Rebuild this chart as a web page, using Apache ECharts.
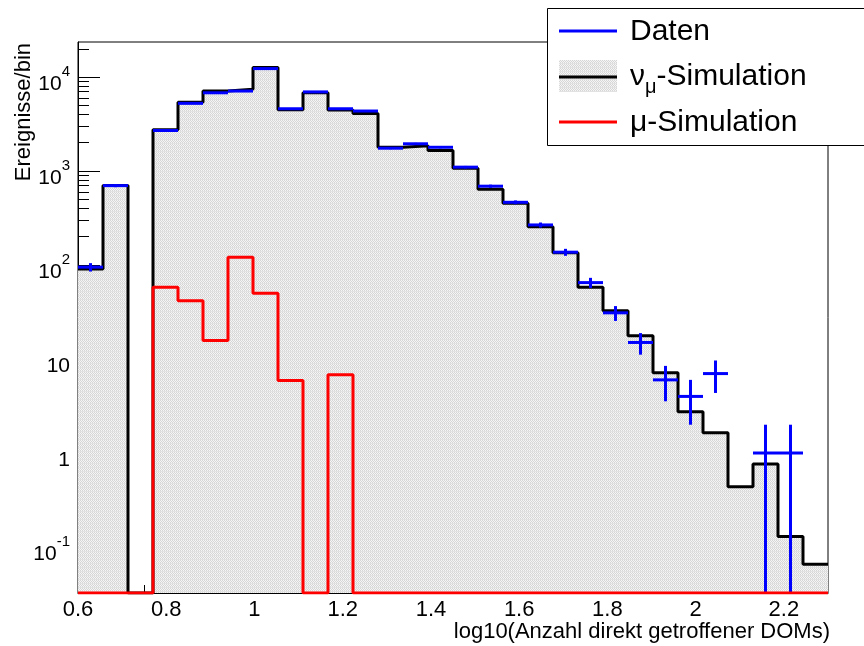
<!DOCTYPE html>
<html>
<head>
<meta charset="utf-8">
<script src="https://cdn.jsdelivr.net/npm/echarts@6/dist/echarts.min.js"></script>
<style>
  html, body { margin: 0; padding: 0; background: #ffffff; }
  #chart { width: 864px; height: 646px; }
</style>
</head>
<body>
<div id="chart"></div>
<script>
// Binning in log10(number of directly hit DOMs)
const binLow = 0.6;
const binHigh = 2.3;
const binCount = 30;

// Events per bin: measured data
const daten = [95, 700, 0, 2700, 5250, 6800, 7100, 12300, 4600, 6950,
               4600, 4350, 1750, 1950, 1790, 1100, 690, 465, 267, 137,
               65, 31, 15, 6, 4, 7, 0, 1, 1, 0];

// Events per bin: nu_mu simulation (weighted)
const nuMuSimulation = [91, 700, 0, 2750, 5400, 7100, 7400, 12600, 4500, 6800,
                        4450, 4100, 1790, 1860, 1650, 1070, 640, 455, 255, 135,
                        58, 32.6, 17.7, 7.15, 2.75, 1.64, 0.438, 0.764, 0.129, 0.0655];

// Events per bin: atmospheric muon simulation
const muSimulation = [0, 0, 0, 58, 41.7, 15.7, 121, 50, 5.9, 0,
                      6.8, 0, 0, 0, 0, 0, 0, 0, 0, 0,
                      0, 0, 0, 0, 0, 0, 0, 0, 0, 0];

// Axis ranges and tick labels
const yMin = 0.0324;
const yMax = 23600;
const xTickValues = [0.6, 0.8, 1, 1.2, 1.4, 1.6, 1.8, 2, 2.2];
const xTickLabels = ['0.6', '0.8', '1', '1.2', '1.4', '1.6', '1.8', '2', '2.2'];
const yTickValues = [0.1, 1, 10, 100, 1000, 10000];
const yTickLabels = ['{b|10}{s|-1}', '{b|1}', '{b|10}', '{b|10}{s|2}', '{b|10}{s|3}', '{b|10}{s|4}'];

const binWidth = (binHigh - binLow) / binCount;
const edge = i => binLow + i * binWidth;

// minor ticks: every 0.05 on x, 2..9 per decade on y
const xMinorTicks = [];
for (let k = 13; k <= 45; k++) {
  const v = +(k * 0.05).toFixed(2);
  if (k % 4 !== 0 && v < binHigh) xMinorTicks.push(v);
}
const yMinorTicks = [];
for (let e = -2; e <= 4; e++) {
  for (let m = 2; m <= 9; m++) {
    const v = m * Math.pow(10, e);
    if (v > yMin && v < yMax) yMinorTicks.push(v);
  }
}

// empty bins sit on the lower frame edge of the log scale
function stepPoints(values) {
  const pts = values.map((v, i) => [edge(i), v > 0 ? v : yMin]);
  pts.push([edge(binCount), values[binCount - 1] > 0 ? values[binCount - 1] : yMin]);
  return pts;
}

// light dotted fill of the simulation histogram
function makeDotPattern() {
  const c = document.createElement('canvas');
  c.width = 4; c.height = 4;
  const g = c.getContext('2d');
  g.fillStyle = '#f5f5f5';
  g.fillRect(0, 0, 4, 4);
  g.fillStyle = '#d6d6d6';
  g.fillRect(0, 0, 1, 1); g.fillRect(2, 0, 1, 1);
  g.fillRect(1, 1, 1, 1); g.fillRect(3, 1, 1, 1);
  g.fillRect(0, 2, 1, 1); g.fillRect(2, 2, 1, 1);
  g.fillRect(1, 3, 1, 1); g.fillRect(3, 3, 1, 1);
  g.fillStyle = '#e2e2e2';
  g.fillRect(0, 3, 4, 1);
  return c;
}
const dotPattern = { image: makeDotPattern(), repeat: 'repeat' };

const datenPoints = [];
daten.forEach((n, i) => {
  if (n > 0) {
    const s = Math.sqrt(n);
    datenPoints.push([edge(i), edge(i + 1), n, Math.max(n - s, yMin), n + s]);
  }
});

const chart = echarts.init(document.getElementById('chart'), null, { renderer: 'canvas' });

const font = 'Liberation Sans, Arial, Helvetica, sans-serif';

chart.setOption({
  animation: false,
  backgroundColor: '#ffffff',
  grid: {
    left: 78, right: 36, top: 42, bottom: 53,
    show: true, borderColor: '#000000', borderWidth: 1, backgroundColor: 'transparent'
  },
  xAxis: [{
    type: 'value', min: binLow, max: binHigh,
    axisLine: { show: true, onZero: false, lineStyle: { color: '#000000', width: 1 } },
    axisTick: { show: true, inside: true, length: 15, customValues: xTickValues, lineStyle: { color: '#000000', width: 1 } },
    axisLabel: {
      show: true, customValues: xTickValues, margin: 6,
      color: '#000000', fontSize: 22, fontFamily: font,
      formatter: v => xTickLabels[xTickValues.findIndex(t => Math.abs(t - v) < 1e-6)] || ''
    },
    splitLine: { show: false }
  }, {
    type: 'value', min: binLow, max: binHigh, position: 'bottom',
    axisLine: { show: false },
    axisTick: { show: true, inside: true, length: 8, customValues: xMinorTicks, lineStyle: { color: '#000000', width: 1 } },
    axisLabel: { show: false },
    splitLine: { show: false }
  }],
  yAxis: [{
    type: 'log', logBase: 10, min: yMin, max: yMax,
    axisLine: { show: true, onZero: false, lineStyle: { color: '#000000', width: 1 } },
    axisTick: { show: true, inside: true, length: 22, customValues: yTickValues, lineStyle: { color: '#000000', width: 1 } },
    axisLabel: {
      show: true, customValues: yTickValues, margin: 8, padding: [5, 0, 0, 0],
      formatter: v => {
        const i = yTickValues.findIndex(t => Math.abs(Math.log10(t) - Math.log10(v)) < 1e-6);
        return i >= 0 ? yTickLabels[i] : '';
      },
      rich: {
        b: { fontSize: 21, fontFamily: font, color: '#000000', lineHeight: 30, verticalAlign: 'bottom' },
        s: { fontSize: 15, fontFamily: font, color: '#000000', lineHeight: 30, verticalAlign: 'top' }
      }
    },
    splitLine: { show: false }
  }, {
    type: 'log', logBase: 10, min: yMin, max: yMax, position: 'left',
    axisLine: { show: false },
    axisTick: { show: true, inside: true, length: 11, customValues: yMinorTicks, lineStyle: { color: '#000000', width: 1 } },
    axisLabel: { show: false },
    splitLine: { show: false }
  }],
  series: [{
    name: 'νμ-Simulation',
    type: 'line', step: 'end', xAxisIndex: 0, yAxisIndex: 0,
    data: stepPoints(nuMuSimulation),
    symbol: 'none', clip: true, z: 2,
    lineStyle: { color: '#000000', width: 3 },
    areaStyle: { color: dotPattern, opacity: 1, origin: 'start' }
  }, {
    name: 'Daten',
    type: 'custom', xAxisIndex: 0, yAxisIndex: 0,
    data: datenPoints, clip: true, z: 3,
    encode: { x: [0, 1], y: [2, 3, 4] },
    renderItem: (params, api) => {
      const x0 = api.value(0), x1 = api.value(1);
      const n = api.value(2), lo = api.value(3), hi = api.value(4);
      const xc = (x0 + x1) / 2;
      const pl = api.coord([x0, n]), pr = api.coord([x1, n]);
      const pt = api.coord([xc, hi]), pb = api.coord([xc, lo]);
      return {
        type: 'group',
        children: [
          { type: 'line', shape: { x1: pl[0], y1: pl[1], x2: pr[0], y2: pr[1] }, style: { stroke: '#0000ff', lineWidth: 3 } },
          { type: 'line', shape: { x1: pt[0], y1: pt[1], x2: pb[0], y2: pb[1] }, style: { stroke: '#0000ff', lineWidth: 3 } }
        ]
      };
    }
  }, {
    name: 'μ-Simulation',
    type: 'line', step: 'end', xAxisIndex: 0, yAxisIndex: 0,
    data: stepPoints(muSimulation),
    symbol: 'none', clip: true, z: 4,
    lineStyle: { color: '#ff0000', width: 3 }
  }],
  graphic: [
    {
      type: 'text', x: 24, y: 43, rotation: Math.PI / 2, z: 10,
      style: { text: 'Ereignisse/bin', fontSize: 22, fontFamily: font, fill: '#000000', align: 'right', verticalAlign: 'middle' }
    },
    {
      type: 'text', x: 830, y: 632, z: 10,
      style: { text: 'log10(Anzahl direkt getroffener DOMs)', fontSize: 22, fontFamily: font, fill: '#000000', align: 'right', verticalAlign: 'middle' }
    },
    {
      type: 'group', z: 20,
      children: [
        { type: 'rect', shape: { x: 547.5, y: 8.5, width: 330, height: 137 }, style: { fill: '#ffffff', stroke: '#000000', lineWidth: 1 } },
        { type: 'line', shape: { x1: 559, y1: 31, x2: 617, y2: 31 }, style: { stroke: '#0000ff', lineWidth: 3 } },
        { type: 'text', x: 630, y: 32, style: { text: 'Daten', fontSize: 30, fontFamily: font, fill: '#000000', verticalAlign: 'middle' } },
        { type: 'rect', shape: { x: 559, y: 60, width: 58, height: 32 }, style: { fill: dotPattern } },
        { type: 'line', shape: { x1: 559, y1: 77, x2: 617, y2: 77 }, style: { stroke: '#000000', lineWidth: 3 } },
        {
          type: 'text', x: 630, y: 77,
          style: {
            text: '{a|ν}{s|μ}{a|-Simulation}', verticalAlign: 'middle',
            rich: {
              a: { fontSize: 30, fontFamily: font, fill: '#000000', lineHeight: 40, verticalAlign: 'middle' },
              s: { fontSize: 20, fontFamily: font, fill: '#000000', lineHeight: 40, verticalAlign: 'bottom' }
            }
          }
        },
        { type: 'line', shape: { x1: 559, y1: 122, x2: 617, y2: 122 }, style: { stroke: '#ff0000', lineWidth: 3 } },
        { type: 'text', x: 630, y: 123, style: { text: 'μ-Simulation', fontSize: 30, fontFamily: font, fill: '#000000', verticalAlign: 'middle' } }
      ]
    }
  ]
});
</script>
</body>
</html>
